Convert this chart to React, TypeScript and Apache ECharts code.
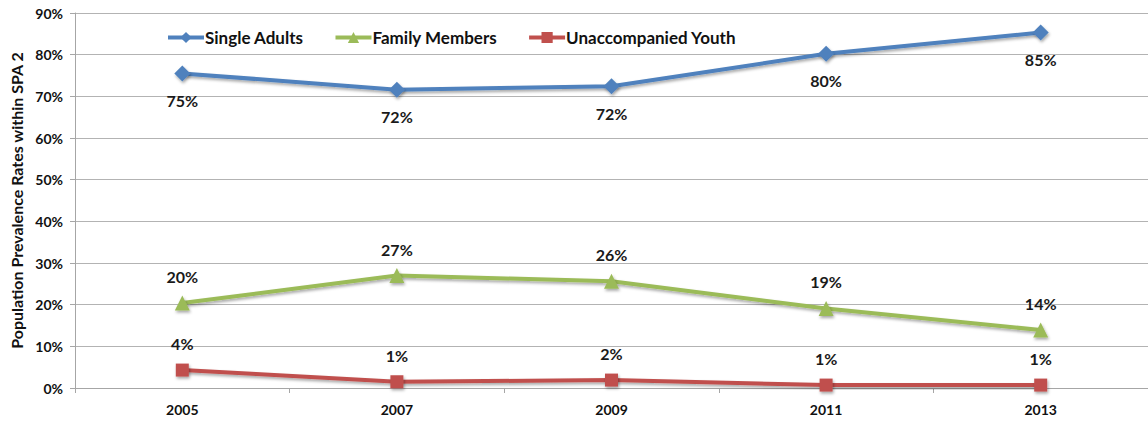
import React, { useEffect, useRef } from "react";
import * as echarts from "echarts";

const categories = ["2005", "2007", "2009", "2011", "2013"];
const singleAdults = [75.5, 71.6, 72.4, 80.2, 85.3];
const familyMembers = [20.4, 27.0, 25.6, 19.1, 13.9];
const unaccompaniedYouth = [4.3, 1.5, 1.9, 0.7, 0.7];
const singleAdultsLabels = ["75%", "72%", "72%", "80%", "85%"];
const familyMembersLabels = ["20%", "27%", "26%", "19%", "14%"];
const unaccompaniedYouthLabels = ["4%", "1%", "2%", "1%", "1%"];

const FONT = "Lato, 'Open Sans', sans-serif";

export default function App() {
  const ref = useRef<HTMLDivElement>(null);
  useEffect(() => {
    if (!ref.current) return;
    const chart = echarts.init(ref.current, undefined, { renderer: "svg" });
    const shadow = {
      shadowColor: "rgba(0,0,0,0.35)",
      shadowBlur: 3,
      shadowOffsetX: 1,
      shadowOffsetY: 2,
    };
    const mkSeries = (
      name: string,
      data: number[],
      labels: string[],
      color: string,
      symbol: string,
      symbolSize: number,
      pos: "top" | "bottom",
      dist: number
    ) => ({
      name,
      type: "line",
      data,
      symbol,
      symbolSize,
      showAllSymbol: true,
      lineStyle: { color, width: 4, ...shadow },
      itemStyle: { color, ...shadow },
      label: {
        show: true,
        position: pos,
        distance: dist,
        formatter: (p: any) => labels[p.dataIndex],
        fontFamily: FONT,
        fontSize: 16,
        fontWeight: "bold",
        color: "#1a1a1a",
      },
      emphasis: { disabled: true },
    });
    chart.setOption({
      animation: false,
      grid: { left: 75, right: -9, top: 13, bottom: 38, containLabel: false },
      legend: {
        left: 161,
        top: 24,
        itemWidth: 36,
        itemHeight: 14,
        itemGap: 30,
        lineStyle: { width: 4 },
        textStyle: {
          fontFamily: FONT,
          fontSize: 17,
          fontWeight: "bold",
          color: "#111",
          padding: [0, 0, 0, -4],
        },
        data: ["Single Adults", "Family Members", "Unaccompanied Youth"],
      },
      xAxis: {
        type: "category",
        data: categories,
        boundaryGap: true,
        axisLine: { show: true, lineStyle: { color: "#a6a6a6", width: 1 } },
        axisTick: { show: true, length: 5, lineStyle: { color: "#a6a6a6" } },
        axisLabel: {
          fontFamily: FONT,
          fontSize: 14,
          fontWeight: "bold",
          color: "#111",
          margin: 14,
        },
      },
      yAxis: {
        type: "value",
        min: 0,
        max: 90,
        interval: 10,
        name: "Population Prevalence Rates within SPA 2",
        nameLocation: "middle",
        nameGap: 50,
        nameRotate: 90,
        nameTextStyle: {
          fontFamily: FONT,
          fontSize: 16,
          fontWeight: "bold",
          color: "#111",
        },
        axisLine: { show: true, lineStyle: { color: "#a6a6a6", width: 1 } },
        axisTick: { show: true, length: 5, lineStyle: { color: "#a6a6a6" } },
        splitLine: { show: true, lineStyle: { color: "#b3b3b3", width: 1 } },
        axisLabel: {
          fontFamily: FONT,
          fontSize: 14,
          fontWeight: "bold",
          color: "#111",
          margin: 12,
          formatter: "{value}%",
        },
      },
      series: [
        mkSeries("Single Adults", singleAdults, singleAdultsLabels, "#4F81BD", "diamond", 16, "bottom", 11),
        mkSeries("Family Members", familyMembers, familyMembersLabels, "#9BBB59", "triangle", 15, "top", 11),
        mkSeries("Unaccompanied Youth", unaccompaniedYouth, unaccompaniedYouthLabels, "#C0504D", "rect", 13, "top", 12),
      ],
    });
    return () => chart.dispose();
  }, []);
  return (
    <div
      ref={ref}
      style={{ position: "fixed", left: 0, top: 0, width: 1148, height: 426, background: "#fff" }}
    />
  );
}
